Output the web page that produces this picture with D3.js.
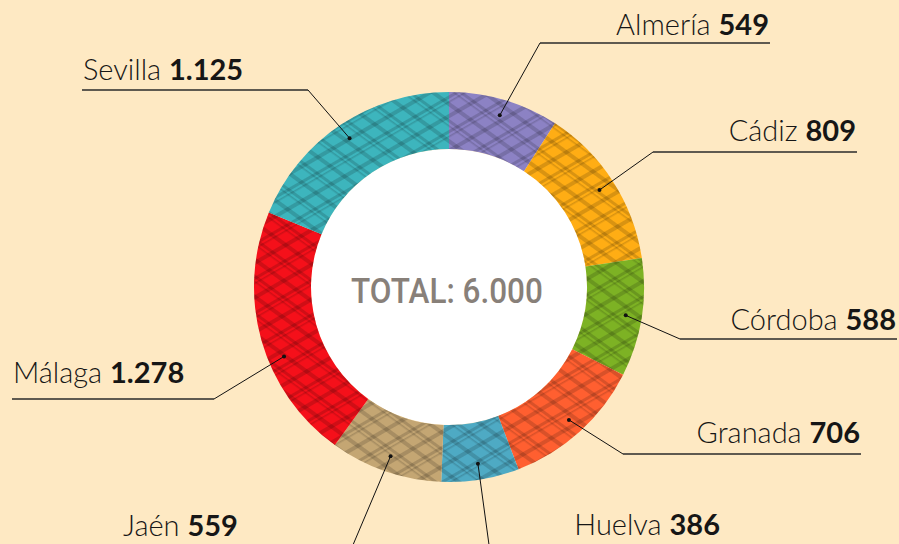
<!DOCTYPE html>
<html>
<head>
<meta charset="utf-8">
<script src="https://cdn.jsdelivr.net/npm/d3@7"></script>
<style>
  html, body { margin: 0; padding: 0; background: #fee9c3; }
  svg { display: block; }
</style>
</head>
<body>
<div id="chart"></div>
<script>
var svgWidth = 899;
var svgHeight = 544;

// data
var provinces = ["Almería", "Cádiz", "Córdoba", "Granada", "Huelva", "Jaén", "Málaga", "Sevilla"];
var values = [549, 809, 588, 706, 386, 559, 1278, 1125];
var valueLabels = ["549", "809", "588", "706", "386", "559", "1.278", "1.125"];
var totalLabel = "TOTAL: 6.000";
var colors = ["#8c82c4", "#ffad14", "#7db224", "#ff5f30", "#4eaac4", "#c4a673", "#f5101a", "#3db5bd"];

// label layout (side, x of text edge, text baseline, underline y, elbow x, angle nudge)
var labelLayout = [
  { side: "right", x: 769, ty: 35, ly: 43, ex: 540, nudge: 0 },
  { side: "right", x: 856, ty: 141, ly: 152, ex: 653, nudge: 0 },
  { side: "right", x: 896, ty: 330, ly: 339, ex: 680, nudge: 0 },
  { side: "right", x: 860, ty: 443, ly: 454, ex: 623, nudge: 0 },
  { side: "right", x: 720, ty: 535, ly: 552, ex: 490, nudge: 0 },
  { side: "left", x: 123, ty: 536, ly: 552, ex: 350, nudge: 0 },
  { side: "left", x: 13, ty: 383, ly: 399, ex: 214, nudge: -7 },
  { side: "left", x: 83, ty: 80, ly: 90, ex: 308, nudge: 0 }
];

var cx = 449, cy = 287;
var outerR = 195, innerR = 138, dotR = 179;

var svg = d3.select("#chart")
    .append("svg")
    .attr("width", svgWidth)
    .attr("height", svgHeight);

svg.append("rect")
    .attr("width", svgWidth)
    .attr("height", svgHeight)
    .attr("fill", "#fee9c3");

// crosshatch patterns
var defs = svg.append("defs");
function hatch(id, angle) {
    var p = defs.append("pattern")
        .attr("id", id)
        .attr("patternUnits", "userSpaceOnUse")
        .attr("width", 40)
        .attr("height", 30)
        .attr("patternTransform", "rotate(" + angle + ")");
    [[0, 4], [14, 3], [19, 1.5]].forEach(function(l) {
        p.append("rect")
            .attr("x", 0).attr("y", l[0])
            .attr("width", 40).attr("height", l[1])
            .attr("fill", "rgba(0,0,0,0.15)");
    });
}
hatch("hatchA", -30);
hatch("hatchB", 36);

var chart = svg.append("g")
    .attr("transform", `translate(${cx}, ${cy})`);

var pie = d3.pie().sort(null).value(d => d.value);
var data = provinces.map((p, i) => ({ name: p, value: values[i], label: valueLabels[i], color: colors[i], layout: labelLayout[i] }));
var arcs = pie(data);

var arc = d3.arc().innerRadius(innerR).outerRadius(outerR);

chart.append("circle").attr("r", innerR).attr("fill", "#fff");

var slices = chart.selectAll("g.slice")
    .data(arcs)
    .enter()
    .append("g")
    .attr("class", "slice");

slices.append("path").attr("d", arc).attr("fill", d => d.data.color);
slices.append("path").attr("d", arc).attr("fill", "url(#hatchA)");
slices.append("path").attr("d", arc).attr("fill", "url(#hatchB)");

// center text (condensed look)
chart.append("text")
    .attr("text-anchor", "middle")
    .attr("transform", "translate(-2, 16) scale(0.9, 1)")
    .attr("font-family", "Roboto, sans-serif")
    .attr("font-weight", 500)
    .attr("font-size", 35)
    .attr("fill", "#888079")
    .text(totalLabel);

// labels with leader lines
var labels = svg.append("g");
arcs.forEach(function(d) {
    var L = d.data.layout;
    var a = (d.startAngle + d.endAngle) / 2 + L.nudge * Math.PI / 180;
    var dx = cx + dotR * Math.sin(a);
    var dy = cy - dotR * Math.cos(a);
    var edge = L.side === "right" ? L.x + 1 : L.x - 1;

    labels.append("line")
        .attr("x1", edge).attr("y1", L.ly)
        .attr("x2", L.ex).attr("y2", L.ly)
        .attr("stroke", "#2a2a2a")
        .attr("stroke-width", 1.4);
    labels.append("line")
        .attr("x1", L.ex).attr("y1", L.ly)
        .attr("x2", dx).attr("y2", dy)
        .attr("stroke", "#111")
        .attr("stroke-width", 1);
    labels.append("circle")
        .attr("cx", dx).attr("cy", dy)
        .attr("r", 2)
        .attr("fill", "#111");

    var t = labels.append("text")
        .attr("x", L.x)
        .attr("y", L.ty)
        .attr("text-anchor", L.side === "right" ? "end" : "start")
        .attr("font-family", "Lato, sans-serif")
        .attr("font-size", 29)
        .attr("fill", "#161616");
    t.append("tspan").attr("font-weight", 300).text(d.data.name + " ");
    t.append("tspan").attr("font-weight", 700).text(d.data.label);
});
</script>
</body>
</html>
